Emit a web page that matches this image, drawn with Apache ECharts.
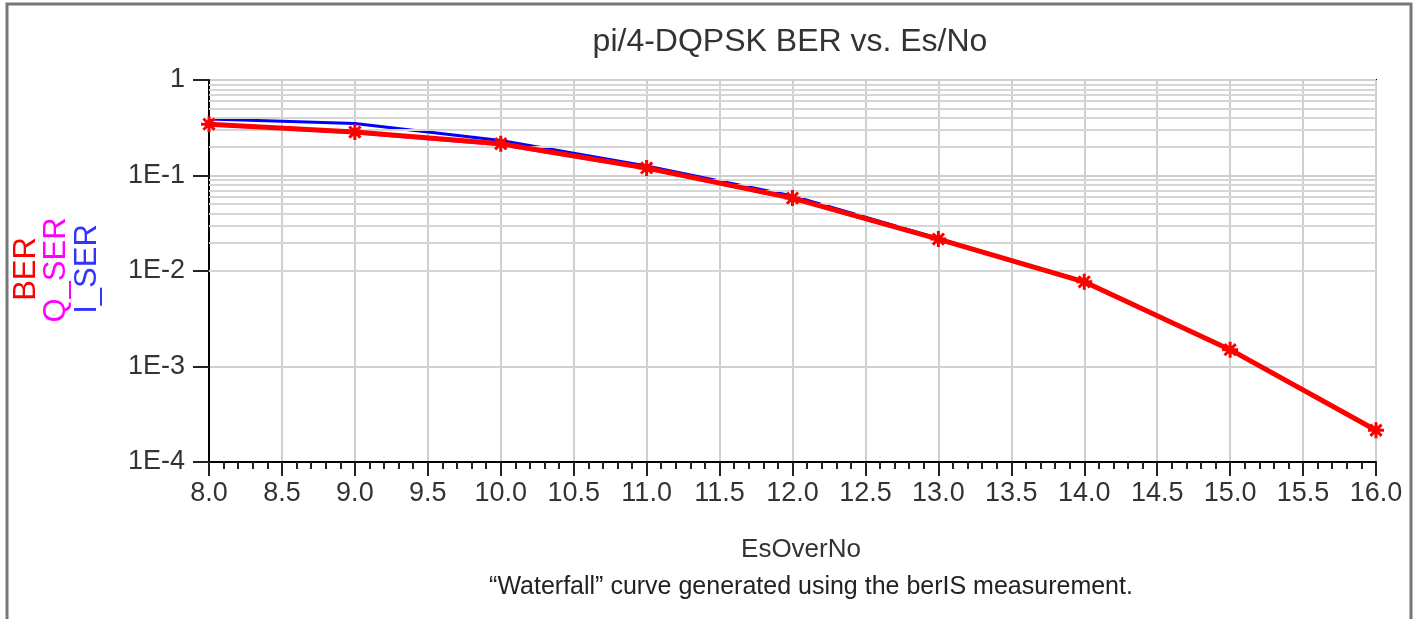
<!DOCTYPE html>
<html>
<head>
<meta charset="utf-8">
<script src="https://cdn.jsdelivr.net/npm/echarts@6/dist/echarts.min.js"></script>
<style>
html,body{margin:0;padding:0;background:#fff;}
#chart{width:1423px;height:619px;}
</style>
</head>
<body>
<div id="chart"></div>
<script>
// ---- data ----
var esOverNo = [8, 9, 10, 11, 12, 13, 14, 15, 16];
var ber   = [0.345, 0.285, 0.215, 0.120, 0.058, 0.0216, 0.0077, 0.0015, 0.000215];
var qSer  = [0.340, 0.280, 0.210, 0.118, 0.057, 0.0214, 0.0076, 0.00148, 0.000212];
var iSer  = [0.390, 0.350, 0.232, 0.126, 0.061, 0.0219, 0.0077, 0.0015, 0.000215];
var xTickLabels = ['8.0','8.5','9.0','9.5','10.0','10.5','11.0','11.5','12.0','12.5','13.0','13.5','14.0','14.5','15.0','15.5','16.0'];
var yDecades = [0.0001, 0.001, 0.01, 0.1];
var yTickLabels = {'1':'1','0.1':'1E-1','0.01':'1E-2','0.001':'1E-3','0.0001':'1E-4'};
var titleText = 'pi/4-DQPSK BER vs. Es/No';
var xName = 'EsOverNo';
var caption = '\u201cWaterfall\u201d curve generated using the berIS measurement.';

var FONT = 'Liberation Sans, Arial, sans-serif';

function pairs(ys){ return esOverNo.map(function(x,i){ return [x, ys[i]]; }); }

// minor horizontal grid lines (2..9 within each decade)
var minorLines = [];
yDecades.forEach(function(d){
  for (var k = 2; k <= 9; k++) minorLines.push({yAxis: +(k*d).toPrecision(3)});
});

var star = 'path://M0,-10L0,10M-10,0L10,0M-7,-7L7,7M-7,7L7,-7';

var chart = echarts.init(document.getElementById('chart'));
chart.setOption({
  animation: false,
  backgroundColor: '#fff',
  grid: {left: 209, right: 47, top: 80, bottom: 157, show: true, borderColor: '#000', borderWidth: 2, backgroundColor: 'transparent'},
  xAxis: {
    type: 'value', min: 8, max: 16, interval: 0.5,
    axisLine: {show: true, lineStyle: {color: '#000', width: 2}},
    axisTick: {show: true, inside: false, length: 14, lineStyle: {color: '#222', width: 2}},
    minorTick: {show: true, splitNumber: 5, length: 7, lineStyle: {color: '#222', width: 2}},
    axisLabel: {color: '#333', fontSize: 27, fontFamily: FONT, margin: 18,
      formatter: function(v){ var i = Math.round((v-8)/0.5); return xTickLabels[i] || ''; }},
    splitLine: {show: true, lineStyle: {color: '#cfcfcf', width: 2}}
  },
  yAxis: {
    type: 'log', logBase: 10, min: 0.0001, max: 1,
    axisLine: {show: true, onZero: false, lineStyle: {color: '#000', width: 2}},
    axisTick: {show: true, inside: false, length: 16, lineStyle: {color: '#222', width: 2}},
    axisLabel: {color: '#333', fontSize: 27, fontFamily: FONT, margin: 24,
      formatter: function(v){ var k = String(+v.toPrecision(3)); return yTickLabels[k] || ''; }},
    splitLine: {show: true, lineStyle: {color: '#cfcfcf', width: 2}}
  },
  graphic: [
    {type: 'rect', shape: {x: 7, y: 4, width: 1404, height: 700}, style: {fill: 'none', stroke: '#777', lineWidth: 3}, z: -10},
    {type: 'text', x: 790, y: 42, style: {text: titleText, font: '32px ' + FONT, fill: '#333', textAlign: 'center', textVerticalAlign: 'middle'}},
    {type: 'text', x: 801, y: 550, style: {text: xName, font: '26px ' + FONT, fill: '#333', textAlign: 'center', textVerticalAlign: 'middle'}},
    {type: 'text', x: 811, y: 587, style: {text: caption, font: '25px ' + FONT, fill: '#222', textAlign: 'center', textVerticalAlign: 'middle'}},
    {type: 'text', x: 26, y: 269, rotation: Math.PI/2, style: {text: 'BER', font: '31px ' + FONT, fill: '#ff0000', textAlign: 'center', textVerticalAlign: 'middle'}},
    {type: 'text', x: 56, y: 270, rotation: Math.PI/2, style: {text: 'Q_SER', font: '31px ' + FONT, fill: '#ff00ff', textAlign: 'center', textVerticalAlign: 'middle'}},
    {type: 'text', x: 87, y: 269, rotation: Math.PI/2, style: {text: 'I_SER', font: '31px ' + FONT, fill: '#3333ff', textAlign: 'center', textVerticalAlign: 'middle'}}
  ],
  series: [
    {name: 'grid', type: 'line', data: [], silent: true,
      markLine: {silent: true, symbol: 'none', label: {show: false}, lineStyle: {color: '#d6d6d6', width: 2, type: 'solid'}, data: minorLines}, z: 1},
    {name: 'I_SER', type: 'line', data: pairs(iSer), symbol: 'none', lineStyle: {color: '#0000ff', width: 3}, z: 3},
    {name: 'Q_SER', type: 'line', data: pairs(qSer), symbol: 'none', lineStyle: {color: '#ff00ff', width: 3}, z: 4},
    {name: 'BER', type: 'line', data: pairs(ber), symbol: star, symbolSize: 16, showAllSymbol: true,
      lineStyle: {color: '#ff0000', width: 5},
      itemStyle: {color: '#ff0000', borderColor: '#ff0000', borderWidth: 3}, z: 5}
  ]
});
</script>
</body>
</html>
